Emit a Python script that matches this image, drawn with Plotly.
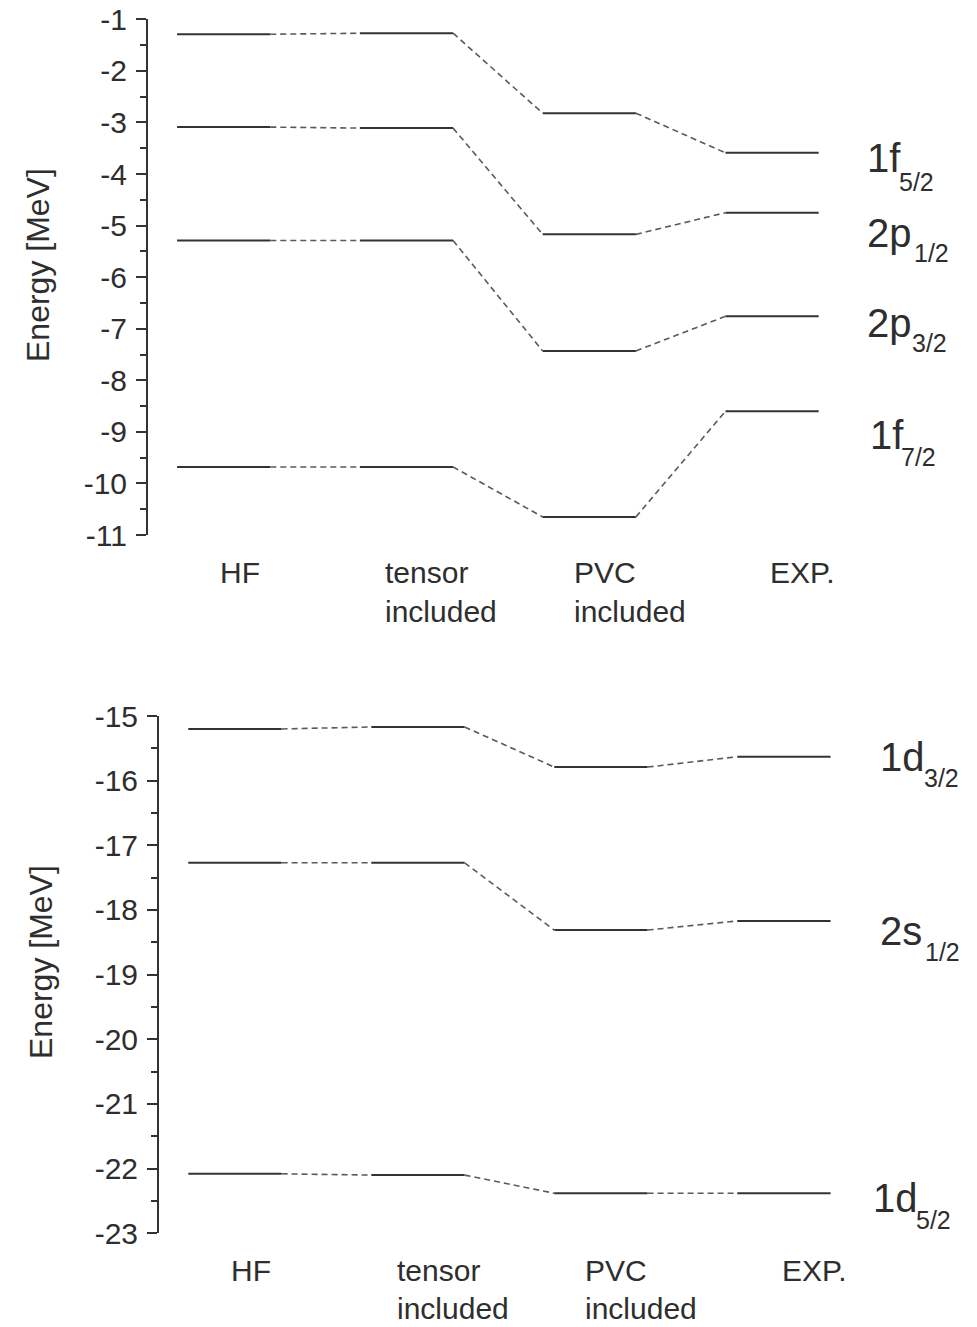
import plotly.graph_objects as go

W, H = 977, 1327

# ---------------- data ----------------
categories = ["HF", "tensor included", "PVC included", "EXP."]

# upper panel (MeV), values per column: HF, tensor, PVC, EXP
top_states_main = ["1f", "2p", "2p", "1f"]
top_states_sub = ["5/2", "1/2", "3/2", "7/2"]
f52 = [-1.29, -1.27, -2.82, -3.59]
p12 = [-3.09, -3.11, -5.17, -4.75]
p32 = [-5.29, -5.29, -7.43, -6.76]
f72 = [-9.68, -9.68, -10.65, -8.60]
top_levels = [f52, p12, p32, f72]

# lower panel (MeV)
bot_states_main = ["1d", "2s", "1d"]
bot_states_sub = ["3/2", "1/2", "5/2"]
d32 = [-15.20, -15.17, -15.79, -15.63]
s12 = [-17.27, -17.27, -18.31, -18.17]
d52 = [-22.08, -22.10, -22.38, -22.38]
bot_levels = [d32, s12, d52]

top_ticks = [-1, -2, -3, -4, -5, -6, -7, -8, -9, -10, -11]
top_ticktext = ["-1", "-2", "-3", "-4", "-5", "-6", "-7", "-8", "-9", "-10", "-11"]
bot_ticks = [-15, -16, -17, -18, -19, -20, -21, -22, -23]
bot_ticktext = ["-15", "-16", "-17", "-18", "-19", "-20", "-21", "-22", "-23"]

# ---------------- style ----------------
FONT = "Liberation Sans, Arial, sans-serif"
TXT = "#2e2e2e"
LEVEL_COLOR = "#333333"
DASH_COLOR = "#5a5a5a"
HALF = 0.255  # half width of a level bar in category units

fig = go.Figure()


def add_levels(levels, xa, ya):
    for vals in levels:
        xs, ys = [], []
        for i, v in enumerate(vals):
            xs += [i - HALF, i + HALF, None]
            ys += [v, v, None]
        fig.add_trace(go.Scatter(x=xs, y=ys, mode="lines", xaxis=xa, yaxis=ya,
                                 line=dict(color=LEVEL_COLOR, width=2),
                                 hoverinfo="skip", showlegend=False))
        dx, dy = [], []
        for i in range(len(vals) - 1):
            dx += [i + HALF, i + 1 - HALF, None]
            dy += [vals[i], vals[i + 1], None]
        fig.add_trace(go.Scatter(x=dx, y=dy, mode="lines", xaxis=xa, yaxis=ya,
                                 line=dict(color=DASH_COLOR, width=1.6, dash="6px,4px"),
                                 hoverinfo="skip", showlegend=False))


add_levels(top_levels, "x", "y")
add_levels(bot_levels, "x2", "y2")


def px_y(p):
    return 1 - p / H


def px_x(p):
    return p / W


yaxis_common = dict(
    showline=True, linecolor="#333333", linewidth=2,
    ticks="outside", ticklen=10, tickwidth=1.5, tickcolor="#333333",
    showgrid=False, zeroline=False, tickmode="array",
    tickfont=dict(family=FONT, size=30, color=TXT),
    ticklabelstandoff=3, automargin=False,
)

fig.update_layout(
    width=W, height=H,
    margin=dict(l=0, r=0, t=0, b=0, pad=0, autoexpand=False),
    paper_bgcolor="white", plot_bgcolor="white",
    xaxis=dict(domain=[148 / W, 1], range=[-0.414, 4.121], visible=False, anchor="y",
               automargin=False),
    xaxis2=dict(domain=[159 / W, 1], range=[-0.415, 4.055], visible=False, anchor="y2",
                automargin=False),
    yaxis=dict(domain=[px_y(535.0), px_y(19.3)], range=[-11, -1], anchor="x",
               tickvals=top_ticks, ticktext=top_ticktext,
               minor=dict(tickmode="array", tickvals=[t - 0.5 for t in top_ticks[:-1]],
                          ticks="outside", ticklen=6, tickwidth=1.5, tickcolor="#333333"),
               **yaxis_common),
    yaxis2=dict(domain=[px_y(1233.3), px_y(716.0)], range=[-23, -15], anchor="x2",
                tickvals=bot_ticks, ticktext=bot_ticktext,
                minor=dict(tickmode="array", tickvals=[t - 0.5 for t in bot_ticks[:-1]],
                           ticks="outside", ticklen=6, tickwidth=1.5, tickcolor="#333333"),
                **yaxis_common),
)

ann = []

# y-axis titles
ann.append(dict(text="Energy [MeV]", x=px_x(38), y=px_y(265), xref="paper", yref="paper",
                textangle=-90, showarrow=False, xanchor="center", yanchor="middle",
                font=dict(family=FONT, size=32, color=TXT)))
ann.append(dict(text="Energy [MeV]", x=px_x(41), y=px_y(962), xref="paper", yref="paper",
                textangle=-90, showarrow=False, xanchor="center", yanchor="middle",
                font=dict(family=FONT, size=32, color=TXT)))

# category labels
cat_offsets = [-0.032, -0.126, -0.097, -0.020]
for xa, line1_px, line2_px in (("x", 573, 611), ("x2", 1270, 1308)):
    for i, c in enumerate(categories):
        parts = c.split(" ")
        ann.append(dict(text=parts[0], x=i + cat_offsets[i], y=px_y(line1_px), xref=xa, yref="paper",
                        showarrow=False, xanchor="left", yanchor="middle",
                        font=dict(family=FONT, size=30, color=TXT)))
        if len(parts) > 1:
            ann.append(dict(text=parts[1], x=i + cat_offsets[i], y=px_y(line2_px), xref=xa, yref="paper",
                            showarrow=False, xanchor="left", yanchor="middle",
                            font=dict(family=FONT, size=30, color=TXT)))

# state labels (main symbol + subscript)
top_main_x = [865, 865, 865, 868]
top_main_y = [158, 233.5, 323, 435]
top_sub_x = [897, 912, 910, 899]
top_sub_y = [181.5, 253, 343, 456.5]
bot_main_x = [878, 878, 871]
bot_main_y = [756.7, 931, 1197.5]
bot_sub_x = [922, 923, 914]
bot_sub_y = [777.5, 952, 1220]

for mains, subs, mx, my, sx, sy in (
        (top_states_main, top_states_sub, top_main_x, top_main_y, top_sub_x, top_sub_y),
        (bot_states_main, bot_states_sub, bot_main_x, bot_main_y, bot_sub_x, bot_sub_y)):
    for k in range(len(mains)):
        ann.append(dict(text=mains[k], x=px_x(mx[k]), y=px_y(my[k]), xref="paper", yref="paper",
                        showarrow=False, xanchor="left", yanchor="middle",
                        font=dict(family=FONT, size=40, color=TXT)))
        ann.append(dict(text=subs[k], x=px_x(sx[k]), y=px_y(sy[k]), xref="paper", yref="paper",
                        showarrow=False, xanchor="left", yanchor="middle",
                        font=dict(family=FONT, size=25, color=TXT)))

fig.update_layout(annotations=ann)

fig.write_html("out.html")
